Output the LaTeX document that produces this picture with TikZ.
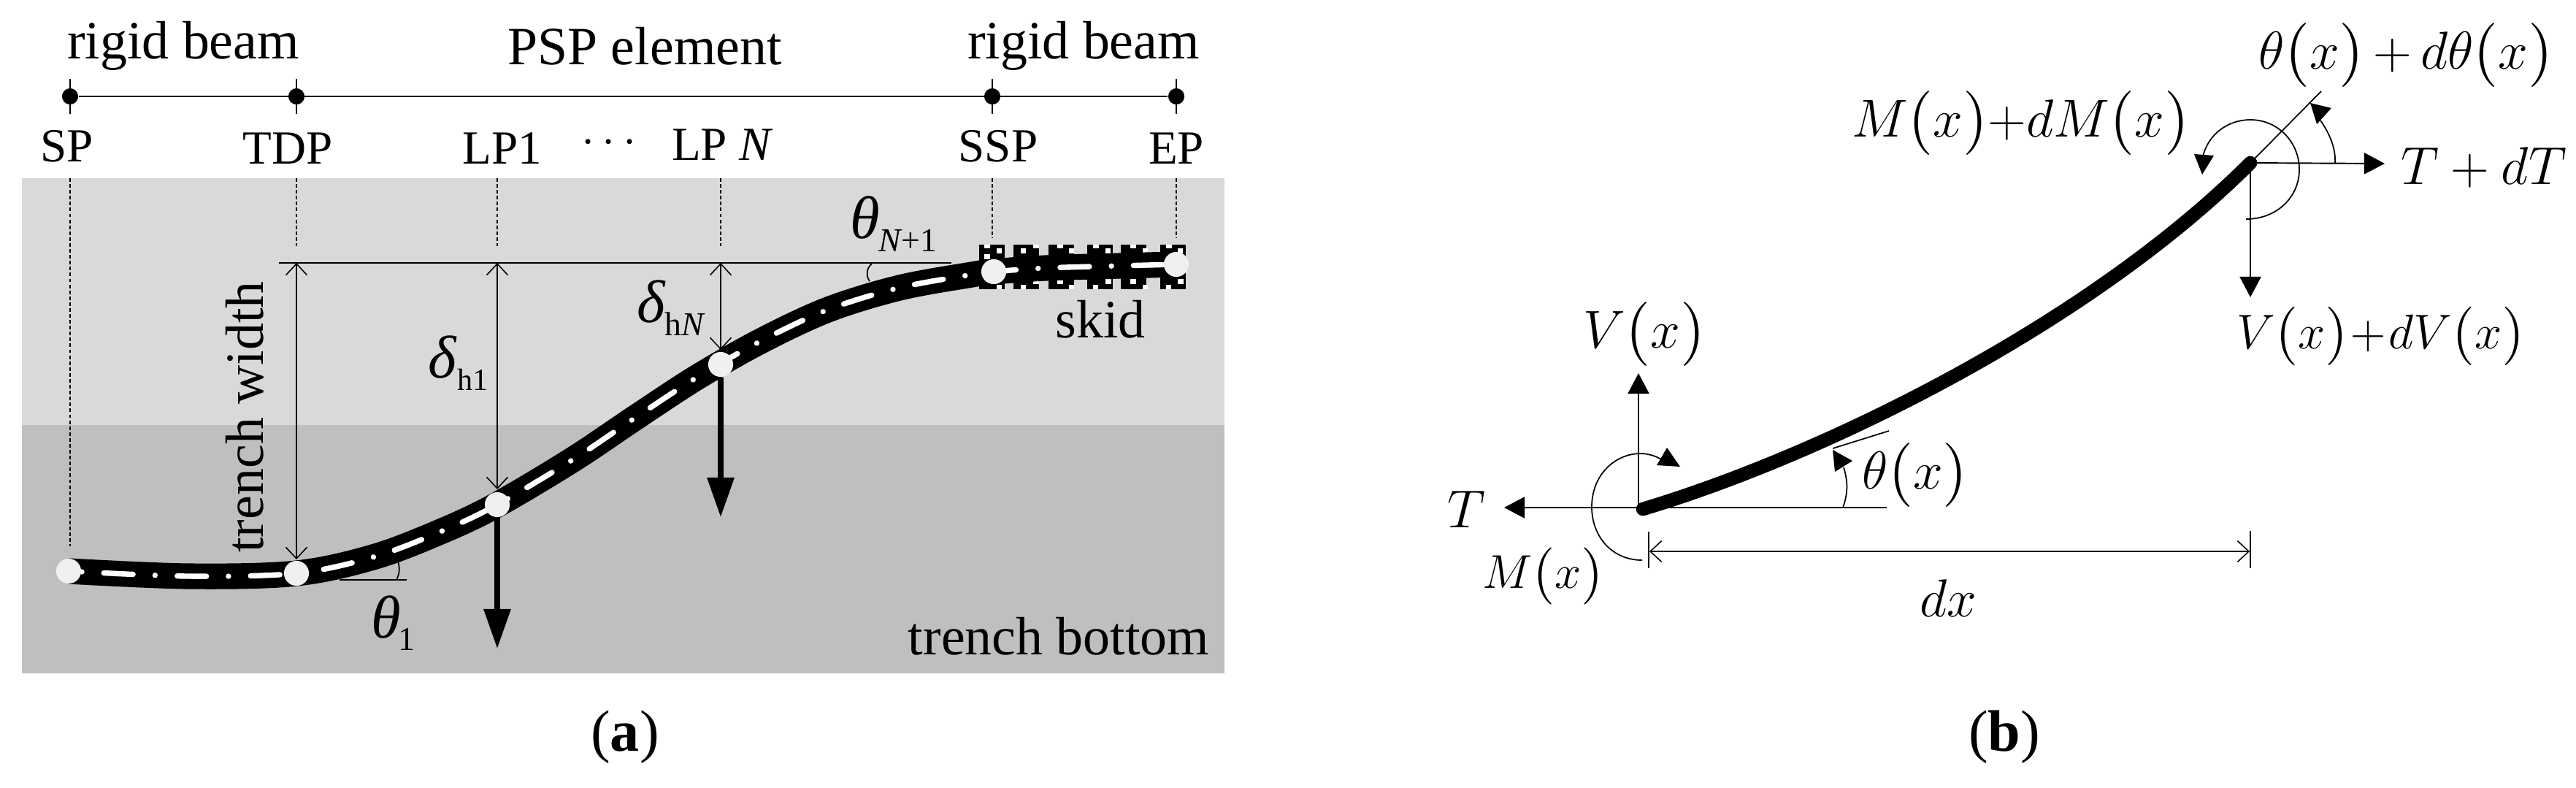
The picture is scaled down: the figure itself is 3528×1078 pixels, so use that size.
\RequirePackage{fix-cm}
\documentclass[tikz,border=0pt]{standalone}
\usepackage{fontspec}
\setmainfont{Liberation Serif}
\usetikzlibrary{arrows.meta}
\definecolor{soil}{HTML}{D9D9D9}
\definecolor{bottomsoil}{HTML}{BFBFBF}
\definecolor{nodefill}{HTML}{F0F0F0}
\newcommand{\lpar}{\raisebox{-.05em}{\font\pf=cmr10 at 1.2em\relax\pf(}}
\newcommand{\rpar}{\raisebox{-.05em}{\font\pf=cmr10 at 1.2em\relax\pf)}}
\newcommand{\prn}[1]{\lpar#1\rpar}
\newcommand{\skidblock}[5]{%
  \fill[black] (#1,335) rectangle ++(35,61);
  \fill[white] (#2,335) rectangle ++(8,5);
  \fill[white] (#3,340) rectangle ++(7,7);
  \fill[white] (#4,382) rectangle ++(8,7);
  \fill[white] (#5,390) rectangle ++(7,6);
}
\tikzset{
  txt/.style={inner sep=0pt,anchor=base,font=\fontsize{21}{25}\selectfont},
  tag/.style={inner sep=0pt,anchor=base,font=\fontsize{18.5}{22}\selectfont},
  sym/.style={inner sep=0pt,anchor=base west,font=\fontsize{23.5}{28}\selectfont\itshape},
  subs/.style={inner sep=0pt,anchor=base west,font=\fontsize{12}{14}\selectfont},
  subw/.style={inner sep=0pt,anchor=base west,font=\fontsize{13}{15}\selectfont},
  mbig/.style={inner sep=0pt,anchor=base west,font=\fontsize{20.8}{25}\selectfont},
  msmall/.style={inner sep=0pt,anchor=base west,font=\fontsize{18.5}{22}\selectfont},
  mmid/.style={inner sep=0pt,anchor=base west,font=\fontsize{19}{23}\selectfont},
  capt/.style={inner sep=0pt,anchor=base,font=\fontsize{22.8}{27}\selectfont},
  thin line/.style={line width=0.5pt},
  mid line/.style={line width=0.6pt},
  guide/.style={line width=0.4pt,dash pattern=on 1.4pt off 0.9pt},
  dim/.style={line width=0.45pt,{Straight Barb[length=4.4pt,width=8.2pt]}-{Straight Barb[length=4.4pt,width=8.2pt]}},
  load/.style={line width=2pt,-{Triangle[length=15.4pt,width=10.2pt]}},
  force/.style={line width=0.55pt,-{Triangle[length=8pt,width=8.3pt]}},
  pipe/.style={line width=10pt,black},
  axisline/.style={dash pattern=on 11.38pt off 8.6pt on 0.01pt off 8.6pt,dash phase=14.87pt,white,line width=2.1pt,line cap=round},
  pin/.style={circle,fill=nodefill,inner sep=0pt,minimum size=9.7pt},
  dot/.style={circle,fill=black,inner sep=0pt,minimum size=6.3pt},
}
\begin{document}
\begin{tikzpicture}[x=0.01cm,y=-0.01cm]
\useasboundingbox (0,0) rectangle (3528,1078);
\fill[white] (0,0) rectangle (3528,1078);
% ===== panel (a): ground
\fill[soil] (30,244) rectangle (1677,582);
\fill[bottomsoil] (30,582) rectangle (1677,922);
% named points
\coordinate (spTop) at (96,108); \coordinate (spBot) at (96,156);
\coordinate (tdpTop) at (406,108); \coordinate (tdpBot) at (406,156);
\coordinate (sspTop) at (1359,108); \coordinate (sspBot) at (1359,156);
\coordinate (epTop) at (1611,108); \coordinate (epBot) at (1611,156);
\node[dot] (d1) at (96,132) {};
\node[dot] (d2) at (406,132) {};
\node[dot] (d3) at (1359,132) {};
\node[dot] (d4) at (1611,132) {};
\draw[mid line] (d1) -- (d4);
\draw[thin line] (spTop) -- (spBot) (tdpTop) -- (tdpBot) (sspTop) -- (sspBot) (epTop) -- (epBot);
% guides
\coordinate (gSP) at (96,244); \coordinate (gSPe) at (96,748);
\coordinate (gTD) at (406,244); \coordinate (gTDe) at (406,337);
\coordinate (gL1) at (681,244); \coordinate (gL1e) at (681,337);
\coordinate (gLN) at (987,244); \coordinate (gLNe) at (987,337);
\coordinate (gSS) at (1359,244); \coordinate (gSSe) at (1359,326);
\coordinate (gEP) at (1611,244); \coordinate (gEPe) at (1611,326);
\draw[guide] (gSP) -- (gSPe);
\draw[guide] (gTD) -- (gTDe);
\draw[guide] (gL1) -- (gL1e);
\draw[guide] (gLN) -- (gLNe);
\draw[guide] (gSS) -- (gSSe);
\draw[guide] (gEP) -- (gEPe);
% skid
\skidblock{1341}{1348}{1365}{1348}{1365}
\fill[white] (1348,348) rectangle ++(8,7);
\skidblock{1388}{1415}{1398}{1415}{1398}
\skidblock{1436}{1448}{1464}{1448}{1464}
\skidblock{1489}{1497}{1514}{1514}{1497}
\skidblock{1535}{1548}{1565}{1548}{1565}
\skidblock{1589}{1597}{1613}{1613}{1597}
% reference line
\coordinate (refL) at (382,360); \coordinate (refR) at (1303,360);
\draw[mid line] (refL) -- (refR);
% pipe
\def\pipepath{(94,782) (258,789) (406,785) (514,762) (608,726) (681,691) (785,629) (870,572) (954,517) (1042,467) (1134,424) (1232,394) (1331,376) (1361,372) (1432,367) (1534,364) (1611,362)}
\draw[pipe] plot[smooth,tension=0.55] coordinates {\pipepath};
\draw[axisline] plot[smooth,tension=0.55] coordinates {\pipepath};
% pins
\node[pin] (SP) at (94,782) {};
\node[pin] (TDP) at (406,785) {};
\node[pin] (LP1) at (681,691) {};
\node[pin] (LPN) at (987,499) {};
\node[pin] (SSP) at (1361,372) {};
\node[pin] (EP) at (1611,362) {};
% dimensions
\coordinate (w1) at (406,360); \coordinate (w2) at (406,766);
\coordinate (h1a) at (681,360); \coordinate (h1b) at (681,670);
\coordinate (hNa) at (987,360); \coordinate (hNb) at (987,479);
\draw[dim] (w1) -- (w2);
\draw[dim] (h1a) -- (h1b);
\draw[dim] (hNa) -- (hNb);
% loads
\coordinate (f1) at (681,888); \coordinate (f2) at (987,708);
\draw[load] (LP1) -- (f1);
\draw[load] (LPN) -- (f2);
% angles
\coordinate (a1s) at (465,794); \coordinate (a1e) at (557,794);
\draw[mid line] (a1s) -- (a1e);
\draw[thin line] (545,769) .. controls (548,778) and (547,786) .. (543,794);
\draw[thin line] (1194,361) .. controls (1186,368) and (1186,378) .. (1191,385);
% labels (a)
\node[txt] (tRB1) at (251,80) {rigid beam};
\node[txt] (tRB2) at (1484,80) {rigid beam};
\node[txt] (tPSP) at (883,88) {PSP element};
\node[tag] (tSP) at (92,221) {SP};
\node[tag] (tTDP) at (394,224) {TDP};
\node[tag] (tL1) at (688,224) {LP1};
\node[tag,anchor=center] (tDots) at (834,196) {$\cdots$};
\node[tag] (tLN) at (988,219) {LP {\itshape N}};
\node[tag] (tSSP) at (1367,221) {SSP};
\node[tag] (tEP) at (1611,224) {EP};
\node[txt,rotate=90] (tW) at (360,571) {trench width};
\node[txt] (tSkid) at (1507,462) {skid};
\node[txt] (tBot) at (1450,896) {trench bottom};
\node[sym] (tD1) at (586,517) {δ};
\node[subs] (tD1s) at (626,534) {h1};
\node[sym] (tDN) at (872,441) {δ};
\node[subw] (tDNs) at (910,459) {h{\itshape N}};
\node[sym] (tT1) at (508,873) {θ};
\node[subw] (tT1s) at (545,890) {1};
\node[sym] (tTN) at (1164,326) {θ};
\node[subw] (tTNs) at (1203,344) {{\itshape N}+1};
\node[capt] (capA) at (856,1028) {(\textbf{a})};
% ===== panel (b)
\coordinate (bA) at (2250,697); \coordinate (bB) at (3082,223);
\coordinate (tipT) at (2060,695); \coordinate (axE) at (2584,695);
\draw[force] (axE) -- (tipT);
\coordinate (vO) at (2244,695); \coordinate (vT) at (2244,511);
\draw[force] (vO) -- (vT);
\draw[thin line] (2510,614) -- (2587,590);
\draw[line width=5.3pt,line cap=round] (bA) .. controls (2500,622) and (2862,443) .. (bB);
\coordinate (tR) at (3266,224);
\coordinate (vR) at (3082,407);
\coordinate (nE) at (3179,125);
\draw[force] (bB) -- (tR);
\draw[force] (bB) -- (vR);
\draw[thin line] (bB) -- (nE);
% dx
\coordinate (dxA) at (2259,755); \coordinate (dxB) at (3081,755);
\draw[dim] (dxA) -- (dxB);
\coordinate (tk1) at (2258,728); \coordinate (tk2) at (2258,778);
\coordinate (tk3) at (3082,727); \coordinate (tk4) at (3082,778);
\draw[mid line] (tk1) -- (tk2);
\draw[mid line] (tk3) -- (tk4);
% moment and angle arcs
\draw[thin line] (2249,767) .. controls (2208,767) and (2180,735) .. (2180,694) .. controls (2180,650) and (2212,621) .. (2247,621) .. controls (2258,621) and (2270,625) .. (2280,632);
\fill (2283,613) -- (2269,637) -- (2301,639) -- cycle;
\draw[thin line] (2524,695) .. controls (2531,675) and (2531,660) .. (2525,640);
\fill (2510,616) -- (2537,631) -- (2513,646) -- cycle;
\draw[thin line] (3198,223) .. controls (3199,205) and (3192,185) .. (3178,165);
\fill (3164,141) -- (3193,148) -- (3173,170) -- cycle;
\draw[thin line] (3076,300) .. controls (3118,300) and (3149,270) .. (3149,232) .. controls (3149,195) and (3120,164) .. (3082,164) .. controls (3050,164) and (3024,185) .. (3017,214);
\fill (3016,239) -- (3005,211) -- (3032,213) -- cycle;
% labels (b)
\node[mbig] (lT) at (1982,722) {$T$};
\node[mbig] (lV) at (2168,476) {$V\prn{x}$};
\node[msmall] (lM) at (2030,805) {$M\prn{x}$};
\node[mbig] (lTh) at (2550,669) {$\theta\prn{x}$};
\node[mbig] (ldx) at (2629,844) {$dx$};
\node[mbig] (lTh2) at (3093,94) {$\theta\prn{x}\mkern3mu{+}\mkern3mu d\theta\prn{x}$};
\node[mbig] (lM2) at (2536,187) {$M\prn{x}{+}dM\prn{x}$};
\node[mbig] (lT2) at (3288,252) {$T+dT$};
\node[mmid] (lV2) at (3063,477) {$V\prn{x}\mkern1mu{+}\mkern1mu dV\prn{x}$};
\node[capt] (capB) at (2745,1028) {(\textbf{b})};
\end{tikzpicture}
\end{document}
